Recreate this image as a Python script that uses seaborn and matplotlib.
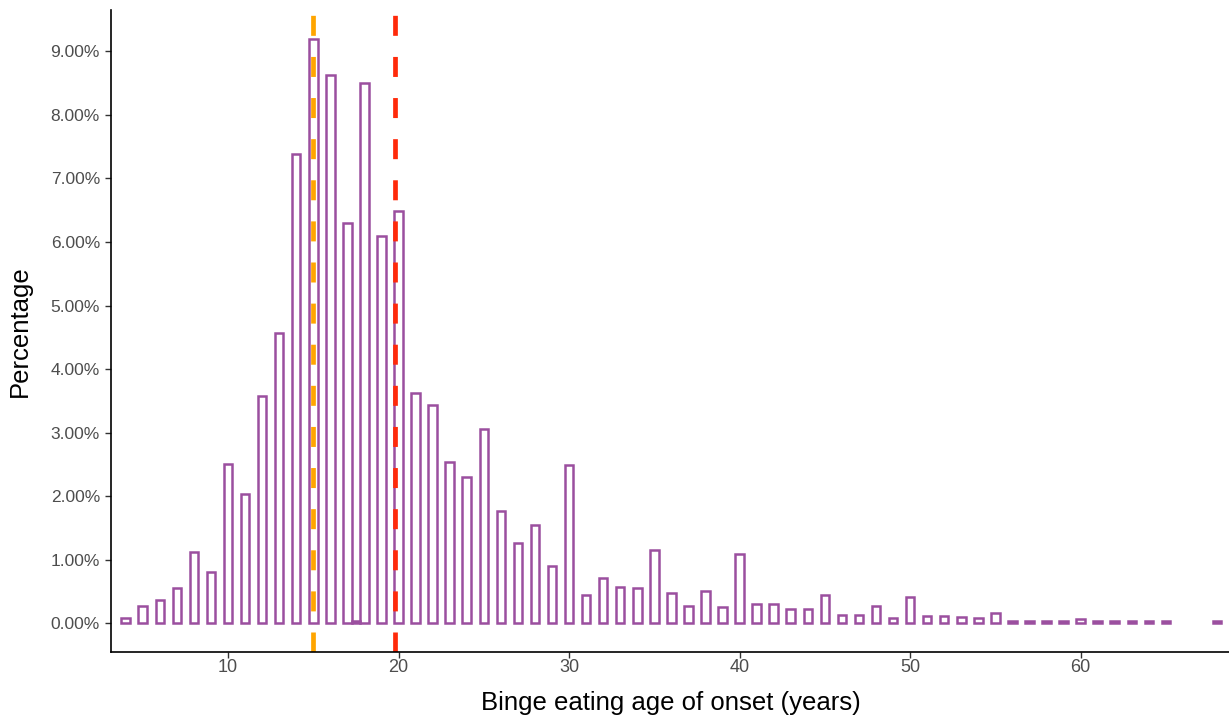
import matplotlib
matplotlib.use("Agg")
import matplotlib.pyplot as plt
import seaborn as sns
import pandas as pd
from matplotlib.ticker import PercentFormatter, FixedLocator

# ---- data ----
ages = [4, 5, 6, 7, 8, 9, 10, 11, 12, 13, 14, 15, 16, 17, 17.5, 18, 19, 20,
        21, 22, 23, 24, 25, 26, 27, 28, 29, 30, 31, 32, 33, 34, 35, 36, 37,
        38, 39, 40, 41, 42, 43, 44, 45, 46, 47, 48, 49, 50, 51, 52, 53, 54,
        55, 56, 57, 58, 59, 60, 61, 62, 63, 64, 65, 68]
percentages = [0.08, 0.28, 0.37, 0.56, 1.13, 0.81, 2.51, 2.03, 3.58, 4.57,
               7.38, 9.19, 8.63, 6.30, 0.03, 8.50, 6.10, 6.48,
               3.62, 3.43, 2.54, 2.31, 3.06, 1.77, 1.27, 1.55, 0.91, 2.49,
               0.44, 0.71, 0.58, 0.56, 1.16, 0.48, 0.28,
               0.51, 0.26, 1.09, 0.31, 0.31, 0.22, 0.23, 0.45, 0.13, 0.13,
               0.28, 0.08, 0.42, 0.12, 0.12, 0.10, 0.09,
               0.17, 0.04, 0.04, 0.04, 0.04, 0.07, 0.04, 0.04, 0.04, 0.04,
               0.04, 0.04]
median_age = 15.0
mean_age = 19.8
x_ticks = [10, 20, 30, 40, 50, 60]
y_ticks = [0, 1, 2, 3, 4, 5, 6, 7, 8, 9]
x_title = "Binge eating age of onset (years)"
y_title = "Percentage"

df = pd.DataFrame({"age": ages, "pct": percentages})

sns.set_style("white")
plt.rcParams["font.family"] = ["Liberation Sans", "DejaVu Sans"]

W, H = 1229, 718
AX_L, AX_R, AX_T, AX_B = 111, 1229, 10, 652
fig = plt.figure(figsize=(W / 100, H / 100), dpi=100)
ax = fig.add_axes([AX_L / W, 1 - AX_B / H, (AX_R - AX_L) / W, (AX_B - AX_T) / H])

purple = "#9b4f9f"
sns.barplot(data=df, x="age", y="pct", native_scale=True, width=1.0,
            fill=False, color=purple, linewidth=1.8, errorbar=None, ax=ax)
for p in ax.patches:
    p.set_edgecolor(purple)
    p.set_facecolor("none")
    p.set_linewidth(1.8)

lw = 3.4
for xv, col in [(median_age, "#ffa500"), (mean_age, "#ff2a0a")]:
    ln = ax.axvline(xv, color=col, linewidth=lw, zorder=3)
    ln.set_dashes((14.4 / lw, 15.2 / lw))

ax.set_xlim(3.14, 68.7)
ax.set_ylim(-0.45, 9.65)
ax.xaxis.set_major_locator(FixedLocator(x_ticks))
ax.yaxis.set_major_locator(FixedLocator(y_ticks))
ax.yaxis.set_major_formatter(PercentFormatter(xmax=100, decimals=2))

for side in ["top", "right"]:
    ax.spines[side].set_visible(False)
for side in ["left", "bottom"]:
    ax.spines[side].set_color("black")
    ax.spines[side].set_linewidth(1.2)
    ax.spines[side].set_zorder(4)

ax.tick_params(axis="both", which="major", length=4.5, width=1.0,
               color="#333333", labelcolor="#4d4d4d", labelsize=12.5,
               direction="out", bottom=True, left=True)
ax.tick_params(axis="x", pad=0.8, labelsize=13)
ax.tick_params(axis="y", pad=3.5)

pw, ph = AX_R - AX_L, AX_B - AX_T
ax.set_xlabel(x_title, fontsize=18.5, color="black", va="center", ha="center")
ax.xaxis.set_label_coords((671 - AX_L) / pw, (AX_B - 703) / ph)
ax.set_ylabel(y_title, fontsize=18.5, color="black", va="center", ha="center")
ax.yaxis.set_label_coords((20 - AX_L) / pw, (AX_B - 331) / ph)
ax.grid(False)

fig.savefig("out.png", dpi=100, facecolor="white")
